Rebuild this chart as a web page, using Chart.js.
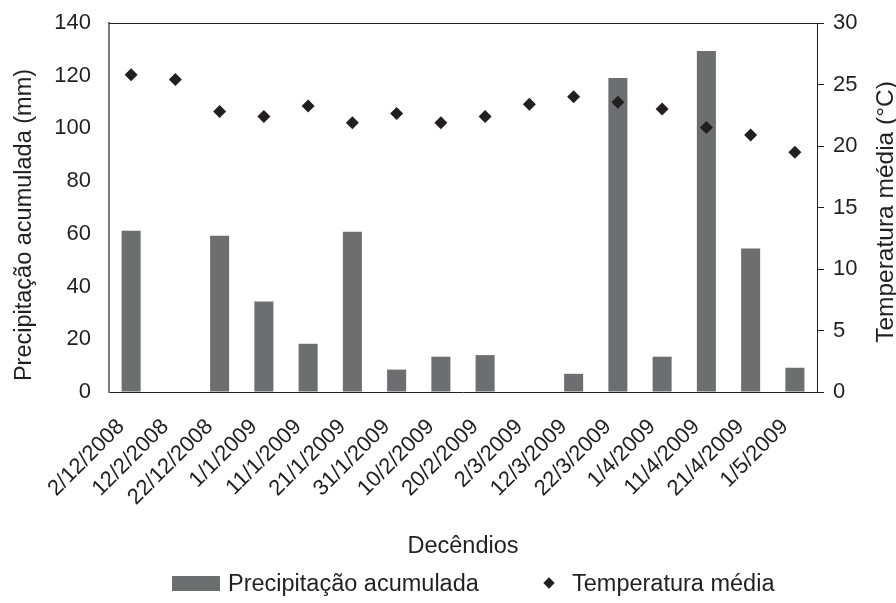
<!DOCTYPE html>
<html><head><meta charset="utf-8">
<script src="https://cdn.jsdelivr.net/npm/chart.js@4"></script>
<style>
html,body{margin:0;padding:0;background:#fff}
#wrap{position:relative;width:896px;height:603px}
#legend{position:absolute;left:0;top:0;width:896px;height:603px;pointer-events:none;font-family:"Liberation Sans",Arial,sans-serif;font-size:23.5px;color:#231f20}
#legend .t{position:absolute;line-height:28px;white-space:nowrap}
#legend .sw{position:absolute}
</style></head>
<body><div id="wrap"><canvas id="c" width="896" height="603"></canvas><div id="legend"></div></div>
<script>
const categories = ['2/12/2008','12/2/2008','22/12/2008','1/1/2009','11/1/2009','21/1/2009','31/1/2009','10/2/2009','20/2/2009','2/3/2009','12/3/2009','22/3/2009','1/4/2009','11/4/2009','21/4/2009','1/5/2009'];
const precipitacao = [61.2, 0, 59.3, 34.3, 18.3, 60.8, 8.5, 13.4, 14.0, 0, 6.9, 119.1, 13.4, 129.4, 54.4, 9.2];
const temperatura = [25.8, 25.4, 22.8, 22.4, 23.25, 21.9, 22.65, 21.9, 22.4, 23.4, 24.0, 23.55, 23.0, 21.5, 20.9, 19.5];
const leftTicks = {min: 0, max: 140, step: 20};
const rightTicks = {min: 0, max: 30, step: 5};
const titles = {x: 'Decêndios', left: 'Precipitação acumulada (mm)', right: 'Temperatura média (°C)'};
const seriesNames = {bar: 'Precipitação acumulada', point: 'Temperatura média'};

const FONT = '"Liberation Sans", Arial, sans-serif';
const BAR = '#6d6e70';
const DARK = '#231f20';

const frame = { id: 'frame', afterDraw(chart) {
  const {ctx, chartArea: a} = chart; ctx.save(); ctx.strokeStyle = DARK; ctx.lineWidth = 1;
  ctx.beginPath(); ctx.moveTo(a.left, Math.round(a.top) + 0.5); ctx.lineTo(a.right, Math.round(a.top) + 0.5); ctx.stroke();
  // vertical axis titles (both read bottom-to-top)
  ctx.fillStyle = DARK; ctx.textAlign = 'center'; ctx.textBaseline = 'middle';
  ctx.font = '23.5px ' + FONT;
  ctx.translate(25, 225); ctx.rotate(-Math.PI / 2); ctx.fillText(titles.left, 0, 0); ctx.setTransform(1,0,0,1,0,0);
  ctx.font = '24.5px ' + FONT;
  ctx.translate(886, 212); ctx.rotate(-Math.PI / 2); ctx.fillText(titles.right, 0, 0);
  ctx.restore(); } };

const chart = new Chart(document.getElementById('c'), {
  data: {
    labels: categories,
    datasets: [
      { type: 'line', label: seriesNames.point, data: temperatura, yAxisID: 'y2', showLine: false,
        pointStyle: 'rectRot', pointRadius: 6.5, pointBackgroundColor: DARK, pointBorderColor: DARK, pointBorderWidth: 0, order: 0 },
      { type: 'bar', label: seriesNames.bar, data: precipitacao, yAxisID: 'y', backgroundColor: BAR,
        barPercentage: 0.43, categoryPercentage: 1, order: 1 }
    ]
  },
  options: {
    responsive: false, animation: false,
    layout: { padding: { top: 23, left: 0, right: 0, bottom: 42 } },
    plugins: { tooltip: { enabled: false }, legend: { display: false } },
    scales: {
      x: { grid: { display: false }, border: { color: DARK, width: 1 },
        ticks: { minRotation: 45, maxRotation: 45, autoSkip: false, color: DARK, font: { family: FONT, size: 22 }, padding: 14, labelOffset: -10 },
        title: { display: true, text: titles.x, color: DARK, font: { family: FONT, size: 23.5 }, padding: { top: 0, bottom: 0 } },
        afterFit(s) { s.height = 169; } },
      y: { position: 'left', min: leftTicks.min, max: leftTicks.max,
        grid: { drawOnChartArea: false, drawTicks: true, tickLength: 18, tickColor: 'rgba(0,0,0,0)' }, border: { color: '#7a7a7a', width: 2 },
        ticks: { stepSize: leftTicks.step, color: DARK, font: { family: FONT, size: 22 }, padding: 0 },
        afterFit(s) { s.width = 109; } },
      y2: { position: 'right', min: rightTicks.min, max: rightTicks.max,
        grid: { drawOnChartArea: false, drawTicks: true, tickLength: 7, color: DARK }, border: { color: DARK, width: 1 },
        ticks: { stepSize: rightTicks.step, color: DARK, font: { family: FONT, size: 22 }, padding: 9 },
        afterFit(s) { s.width = 79; } }
    }
  },
  plugins: [frame]
});

// HTML legend built from the chart's datasets
(function () {
  const lg = document.getElementById('legend');
  const ds = chart.data.datasets;
  const barDs = ds.find(d => d.type === 'bar'), ptDs = ds.find(d => d.type === 'line');
  const cy = 583;
  const sw1 = document.createElement('div'); sw1.className = 'sw';
  Object.assign(sw1.style, {left: '172px', top: (cy - 7) + 'px', width: '48px', height: '15px', background: barDs.backgroundColor});
  const t1 = document.createElement('div'); t1.className = 't'; t1.textContent = barDs.label;
  Object.assign(t1.style, {left: '228px', top: (cy - 14) + 'px'});
  const sw2 = document.createElement('div'); sw2.className = 'sw';
  Object.assign(sw2.style, {left: (549 - 4) + 'px', top: (cy - 4) + 'px', width: '8px', height: '8px', background: ptDs.pointBackgroundColor, transform: 'rotate(45deg)'});
  const t2 = document.createElement('div'); t2.className = 't'; t2.textContent = ptDs.label;
  Object.assign(t2.style, {left: '572px', top: (cy - 14) + 'px'});
  [sw1, t1, sw2, t2].forEach(e => lg.appendChild(e));
})();
</script></body></html>
